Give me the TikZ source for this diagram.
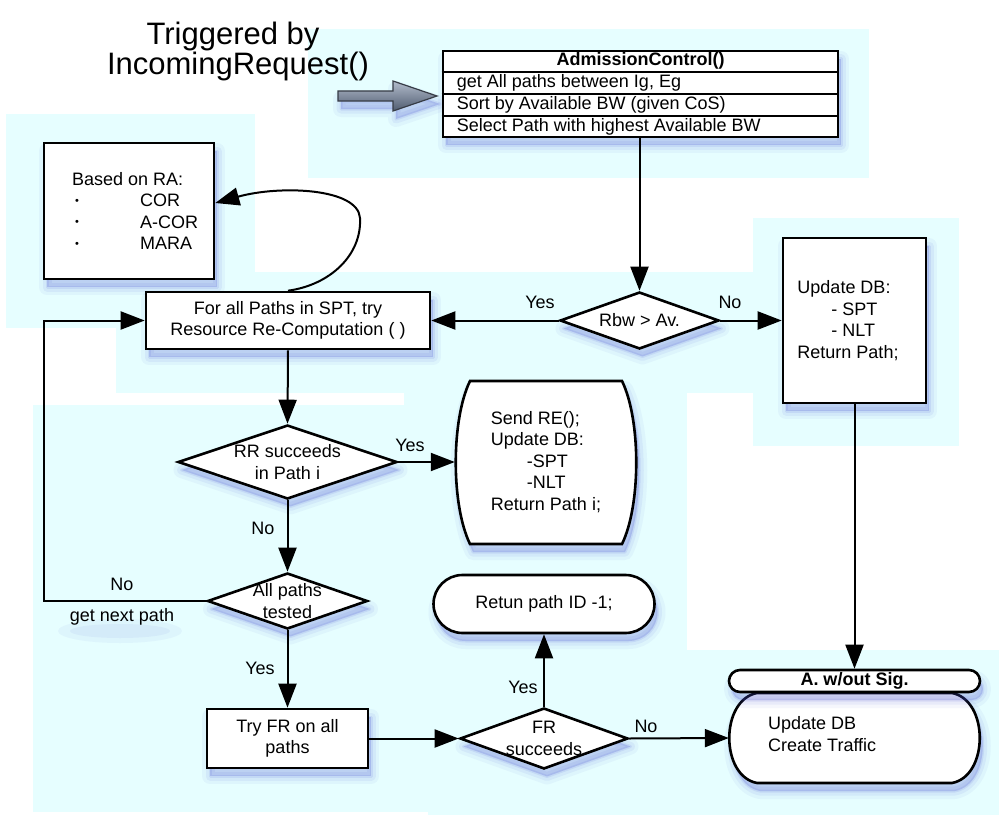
\documentclass[tikz,border=0pt]{standalone}
\usepackage{fontspec}
\setmainfont{Liberation Sans}
\usetikzlibrary{arrows.meta,shapes.geometric,shapes.misc,calc}
\definecolor{bgcyan}{RGB}{230,254,255}
\definecolor{shblue}{RGB}{70,80,210}
\definecolor{arrtop}{RGB}{178,188,204}
\definecolor{arrbot}{RGB}{80,92,112}
\definecolor{arredge}{RGB}{55,60,70}
\newcommand{\smallbullet}{\makebox[68pt][l]{\hspace{3pt}\raisebox{2.5pt}{\fontsize{11}{11}\selectfont •}}}
\begin{document}
\begin{tikzpicture}[x=1pt,y=-1pt,
  every node/.style={font=\fontsize{18}{21.5}\selectfont, inner sep=0pt},
  softshadow/.style={
    preaction={draw=shblue, fill=shblue, line width=16pt, line join=round, opacity=0.05,
      transform canvas={shift={(3pt,-8pt)}}},
    preaction={draw=shblue, fill=shblue, line width=9pt, line join=round, opacity=0.07,
      transform canvas={shift={(3pt,-8pt)}}},
    preaction={draw=shblue, fill=shblue, line width=3pt, line join=round, opacity=0.10,
      transform canvas={shift={(3pt,-8pt)}}}},
  frame/.style={draw, line width=2.6pt, fill=white, softshadow},
  pbox/.style={frame, rectangle},
  dbox/.style={frame, diamond},
  tbox/.style={frame, rounded rectangle},
  textarea/.style={rectangle, draw=none},
  arrowline/.style={line width=2pt, -{Triangle[length=24pt,width=18pt]}},
  boldtext/.style={font=\bfseries\fontsize{18}{21.5}\selectfont},
]
\useasboundingbox (0,0) rectangle (999,816);

% pale cyan panels behind the chart
\fill[bgcyan] (308,29) rectangle (869,178);
\fill[bgcyan] (6,114) rectangle (255,328);
\fill[bgcyan] (116,272) rectangle (753,393);
\fill[bgcyan] (753,218) rectangle (959,446);
\fill[bgcyan] (404,393) rectangle (687,650);
\fill[bgcyan] (33,405) rectangle (428,812);
\fill[bgcyan] (428,650) rectangle (999,815);

% trigger caption and block arrow
\node[font=\fontsize{31}{30}\selectfont, align=center] (trig) at (238,51) {Triggered by\hspace*{10pt}\\IncomingRequest()};
\draw[softshadow, draw=arredge, line width=1.2pt, top color=arrtop, bottom color=arrbot]
  (338,91) -- (393,91) -- (393,81) -- (437,96) -- (393,111) -- (393,101) -- (338,101) -- cycle;

% admission control table
\node[pbox, minimum width=395pt, minimum height=86pt] (adm) at (640.5,94) {};
\draw[line width=2pt] ($(adm.north west)!0.25!(adm.south west)$) -- ($(adm.north east)!0.25!(adm.south east)$);
\draw[line width=2pt] ($(adm.north west)!0.5!(adm.south west)$) -- ($(adm.north east)!0.5!(adm.south east)$);
\draw[line width=2pt] ($(adm.north west)!0.75!(adm.south west)$) -- ($(adm.north east)!0.75!(adm.south east)$);
\node[boldtext] (admtitle) at ($(adm.north)!0.125!(adm.south)$) {AdmissionControl()};
\node[anchor=west] (admrow1) at ($(adm.north west)!0.375!(adm.south west)+(15,0)$) {get All paths between Ig, Eg};
\node[anchor=west] (admrow2) at ($(adm.north west)!0.625!(adm.south west)+(15,0)$) {Sort by Available BW (given CoS)};
\node[anchor=west] (admrow3) at ($(adm.north west)!0.875!(adm.south west)+(15,0)$) {Select Path with highest Available BW};

% resource allocation choices
\node[pbox, minimum width=170pt, minimum height=136pt] (ra) at (129,211) {};
\node[anchor=west, align=left] (ratext) at (72,211)
  {Based on RA:\\\smallbullet COR\\\smallbullet A-COR\\\smallbullet MARA};

% main flow
\node[pbox, minimum width=284pt, minimum height=57pt, align=center] (forall) at (288,320.5)
  {For all Paths in SPT, try\\Resource Re-Computation ( )};
\node[dbox, minimum width=159pt, minimum height=57pt, label={[name=rbwtext]center:Rbw > Av.}] (rbw) at (639.5,320.5) {};
\node[pbox, minimum width=143pt, minimum height=165pt, align=left] (updb) at (854.5,320.5)
  {Update DB:\\\hspace*{34pt}- SPT\\\hspace*{34pt}- NLT\\Return Path;\hspace*{13pt}};

\node[dbox, minimum width=219pt, minimum height=74pt, label={[name=rrtext, align=center]center:RR succeeds\\in Path i}] (rr) at (287.5,462) {};

% barrel-shaped result box (flat top and bottom, bowed sides)
\draw[frame] (470,381) -- (622,381) .. controls (641,420) and (641,505) .. (622,544)
  -- (470,544) .. controls (451,505) and (451,420) .. (470,381) -- cycle;
\node[textarea, minimum width=182pt, minimum height=163pt, align=left] (sendre) at (546,462)
  {Send RE();\\Update DB:\\\hspace*{36pt}-SPT\\\hspace*{36pt}-NLT\\Return Path i;};

\node[dbox, minimum width=160pt, minimum height=56pt, label={[name=allptext, align=center]center:All paths\\tested}] (allp) at (287.5,601) {};
\node[tbox, minimum width=221pt, minimum height=58pt] (ret) at (544,604) {Retun path ID -1;};

\node[pbox, minimum width=161pt, minimum height=59pt, align=center] (tryfr) at (287.5,738.5) {Try FR on all\\paths};
\node[dbox, minimum width=168pt, minimum height=61pt, label={[name=frtext, align=center]center:FR\\succeeds}] (fr) at (544,738.5) {};

% traffic box with bowed sides and its title cap
\draw[frame] (757,693) -- (952,693) .. controls (989,700) and (989,776) .. (952,783)
  -- (757,783) .. controls (720,776) and (720,700) .. (757,693) -- cycle;
\node[textarea, minimum width=251pt, minimum height=90pt] (awbody) at (854.5,738) {};
\node[anchor=west, align=left] (awtext) at (768,734) {Update DB\\Create Traffic};
\node[tbox, minimum width=251pt, minimum height=22pt, boldtext] (awhead) at (854.5,681) {A. w/out Sig.};

% soft glow under the loop-back caption
\fill[shblue, opacity=0.05] (120,631) ellipse [x radius=62pt, y radius=12pt];
\fill[shblue, opacity=0.06] (120,631) ellipse [x radius=50pt, y radius=7pt];

% connectors
\draw[arrowline] (rbw.north |- adm.south) -- (rbw.north);
\draw[arrowline] (rbw.west) -- (forall.east);
\draw[arrowline] (rbw.east) -- (updb.west);
\draw[arrowline] (forall.north) .. controls (330,285) and (362,255) .. (360,218)
  .. controls (358,188) and (280,185) .. ([yshift=8pt]ra.east);
\draw[arrowline] (forall.south) -- (rr.north);
\draw[arrowline] (rr.east) -- (sendre.west);
\draw[arrowline] (rr.south) -- (allp.north);
\coordinate (loopcorner) at (44,601);
\draw[arrowline] (allp.west) -- (loopcorner) |- (forall.west);
\draw[arrowline] (allp.south) -- (tryfr.north);
\draw[arrowline] (tryfr.east) -- (fr.west);
\draw[arrowline] (fr.north) -- (ret.south);
\draw[arrowline] (fr.east) -- (awbody.west);
\draw[arrowline] (updb.south) -- (awhead.north);

% branch labels
\node (yes1) at (540,302) {Yes};
\node (no1) at (730,302) {No};
\node (yes2) at (410,445) {Yes};
\node (no2) at (263,528) {No};
\node (no3) at (122,584) {No};
\node (nextpath) at (122,617) {get next path};
\node (yes3) at (260,668) {Yes};
\node (yes4) at (523,687) {Yes};
\node (no4) at (646,726) {No};
\end{tikzpicture}
\end{document}
